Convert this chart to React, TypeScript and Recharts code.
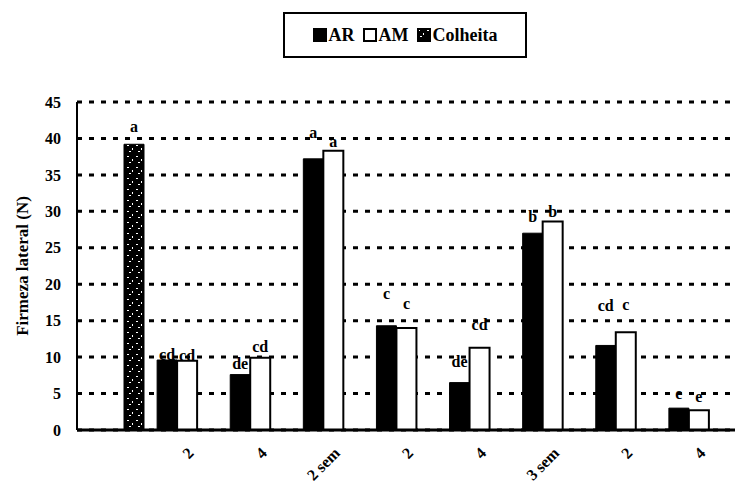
import { BarChart, Bar, XAxis, YAxis, CartesianGrid, LabelList } from "recharts";

// storage time groups (first group is the harvest reference)
const periods = ["", "2", "4", "2 sem", "2", "4", "3 sem", "2", "4"];

// lateral firmness (N)
const arValues = [null, 9.6, 7.6, 37.2, 14.3, 6.5, 27.0, 11.6, 3.0];
const amValues = [null, 9.5, 9.9, 38.3, 14.0, 11.3, 28.6, 13.4, 2.7];
const colheitaValues = [39.2, null, null, null, null, null, null, null, null];

// significance letters
const arLetters = ["", "cd", "de", "a", "c", "de", "b", "cd", "e"];
const amLetters = ["", "cd", "cd", "a", "c", "cd", "b", "c", "e"];
const colheitaLetters = ["a", "", "", "", "", "", "", "", ""];

const yTicks = [0, 5, 10, 15, 20, 25, 30, 35, 40, 45];

// how far each letter sits above its bar
const arLift = [0, 6, 21, 27, 16, 11, 34, 9, 22];
const amLift = [0, 6, 4, 19, 18, 5, 22, 8, 24];
const colheitaLift = [12, 0, 0, 0, 0, 0, 0, 0, 0];

const data = periods.map((p, i) => ({
  period: p,
  AR: arValues[i],
  AM: amValues[i],
  Colheita: colheitaValues[i],
  arL: arLetters[i],
  amL: amLetters[i],
  colL: colheitaLetters[i],
}));

const FONT =
  "'Liberation Serif', Tinos, 'Times New Roman', Times, 'Noto Serif', 'DejaVu Serif', serif";
const W = 736;
const H = 502;

function letterLabel(lift: number[]) {
  return (props: any) => {
    const { x, y, width, value, index } = props;
    if (!value) return null;
    return (
      <text
        x={x + width / 2}
        y={y - lift[index]}
        textAnchor="middle"
        fontFamily={FONT}
        fontWeight="bold"
        fontSize={16}
        fill="#000"
      >
        {value}
      </text>
    );
  };
}

function YTitle(props: any) {
  const { viewBox } = props;
  const cy = viewBox.y + viewBox.height / 2;
  return (
    <g transform={`translate(28, ${cy}) rotate(-90)`}>
      <text x={0} y={0} textAnchor="middle" fontFamily={FONT} fontWeight="bold" fontSize={17} fill="#000">
        Firmeza lateral (N)
      </text>
    </g>
  );
}

function Swatch({ fill }: { fill: string }) {
  return (
    <svg width={14} height={14} style={{ marginRight: 2 }}>
      <rect x={1} y={1} width={12} height={12} fill={fill} stroke="#000" strokeWidth={2} />
    </svg>
  );
}

export default function App() {
  return (
    <div style={{ position: "absolute", left: 0, top: 0, width: W, height: H, background: "#fff" }}>
      <svg width={0} height={0} style={{ position: "absolute" }}>
        <defs>
          <pattern id="speckle" width={9} height={11} patternUnits="userSpaceOnUse">
            <rect width={9} height={11} fill="#000" />
            <rect x={1} y={2} width={2} height={1} fill="#fff" />
            <rect x={6} y={5} width={1} height={2} fill="#fff" />
            <rect x={3} y={8} width={2} height={1} fill="#fff" />
          </pattern>
        </defs>
      </svg>

      <div
        style={{
          position: "absolute",
          left: 283,
          top: 12,
          width: 240,
          height: 42,
          border: "2px solid #000",
          display: "flex",
          alignItems: "center",
          justifyContent: "center",
          fontFamily: FONT,
          fontWeight: "bold",
          fontSize: 18,
          color: "#000",
          gap: 8,
        }}
      >
        <span style={{ display: "flex", alignItems: "center" }}>
          <Swatch fill="#000" />AR
        </span>
        <span style={{ display: "flex", alignItems: "center" }}>
          <Swatch fill="#fff" />AM
        </span>
        <span style={{ display: "flex", alignItems: "center" }}>
          <Swatch fill="url(#speckle)" />Colheita
        </span>
      </div>

      <BarChart
        width={W}
        height={H}
        data={data}
        margin={{ top: 102, right: 1, left: 0, bottom: 0 }}
        barSize={20}
        barGap={0}
      >
        <CartesianGrid
          horizontal
          vertical={false}
          stroke="#000"
          strokeWidth={3}
          strokeDasharray="5 7"
        />
        <XAxis
          dataKey="period"
          height={72}
          axisLine={{ stroke: "#000", strokeWidth: 3 }}
          tickLine={false}
          tickSize={0}
          tickMargin={16}
          interval={0}
          angle={-45}
          textAnchor="end"
          tick={{ fill: "#000", fontSize: 16, fontWeight: "bold", fontFamily: FONT }}
        />
        <YAxis
          width={77}
          domain={[0, 45]}
          ticks={yTicks}
          interval={0}
          axisLine={{ stroke: "#000", strokeWidth: 2 }}
          tickLine={false}
          tickMargin={10}
          tick={{ fill: "#000", fontSize: 16, fontWeight: "bold", fontFamily: FONT }}
          label={{ content: <YTitle /> }}
        />
        <Bar dataKey="AR" fill="#000" stroke="#000" strokeWidth={1} isAnimationActive={false}>
          <LabelList dataKey="arL" content={letterLabel(arLift)} />
        </Bar>
        <Bar dataKey="AM" fill="#fff" stroke="#000" strokeWidth={2} isAnimationActive={false}>
          <LabelList dataKey="amL" content={letterLabel(amLift)} />
        </Bar>
        <Bar dataKey="Colheita" fill="url(#speckle)" stroke="#000" strokeWidth={1} isAnimationActive={false}>
          <LabelList dataKey="colL" content={letterLabel(colheitaLift)} />
        </Bar>
      </BarChart>
    </div>
  );
}
